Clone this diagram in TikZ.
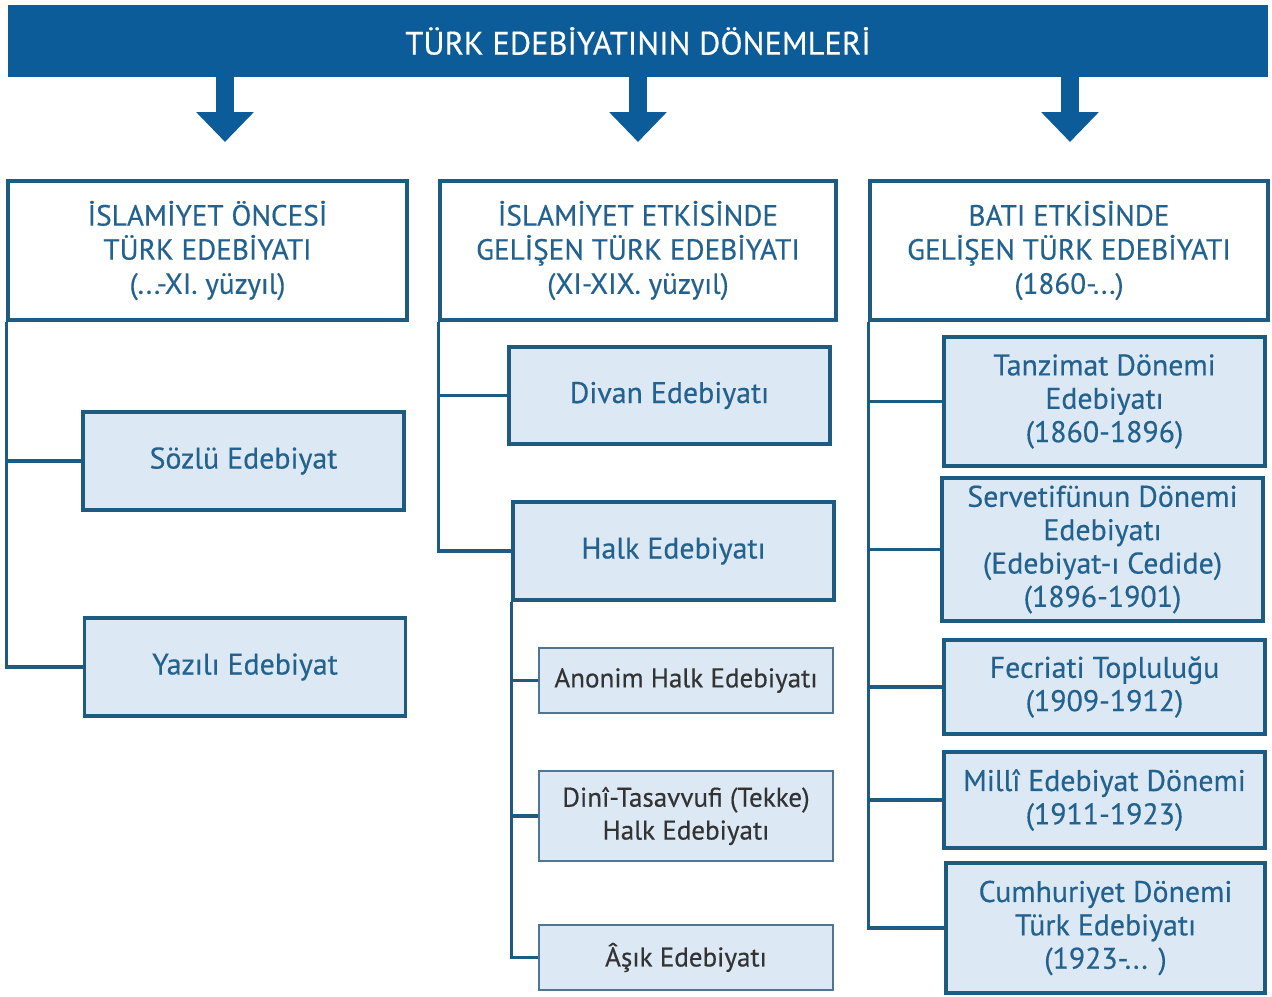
\documentclass[tikz,border=0pt]{standalone}
\usepackage{fontspec}
\setmainfont{PT Sans}[FakeBold=0.4]
\usepackage{tikz}
\usetikzlibrary{arrows.meta, positioning, calc}
\usepackage{xcolor}
\definecolor{hdrblue}{HTML}{0B5C99}
\definecolor{edgeblue}{HTML}{1D5B80}
\definecolor{boxfill}{HTML}{DCE8F4}
\definecolor{txtblue}{HTML}{23628F}
\definecolor{greyedge}{HTML}{4E7592}
\tikzstyle{title} = [rectangle, minimum width=25.2cm, minimum height=1.44cm, fill=hdrblue, text=white, font=\fontsize{18.5}{22}\selectfont]
\tikzstyle{period} = [rectangle, minimum height=2.78cm, draw=edgeblue, line width=2pt, fill=white, text=txtblue, align=center, font=\fontsize{16.6}{19.4}\selectfont]
\tikzstyle{branch} = [rectangle, minimum width=6.42cm, draw=edgeblue, line width=2pt, fill=boxfill, text=txtblue, align=center, font=\fontsize{17}{19}\selectfont]
\tikzstyle{leaf} = [rectangle, minimum width=5.88cm, draw=greyedge, line width=1.2pt, fill=boxfill, text=black!80, align=center, font=\fontsize{15.4}{18.7}\selectfont]
\tikzstyle{tree} = [edgeblue, line width=2pt]
\tikzstyle{blockarrow} = [hdrblue, line width=0.36cm, -{Triangle[width=1.12cm, length=0.6cm]}]

\begin{document}
\begin{tikzpicture}[x=0.02cm, y=-0.02cm]
        \useasboundingbox (0,0) rectangle (1272,997);
        \node (head) [title] at (638,41) {TÜRK EDEBİYATININ DÖNEMLERİ};

        \node (c1) [period, minimum width=7.98cm] at (207.5,250.5) {İSLAMİYET ÖNCESİ\\TÜRK EDEBİYATI\\(...-XI. yüzyıl)};
        \node (c2) [period, minimum width=7.92cm] at (638,250.5) {İSLAMİYET ETKİSİNDE\\GELİŞEN TÜRK EDEBİYATI\\(XI-XIX. yüzyıl)};
        \node (c3) [period, minimum width=7.96cm] at (1069,250.5) {BATI ETKİSİNDE\\GELİŞEN TÜRK EDEBİYATI\\(1860-...)};

        \coordinate (a1) at (225,142);
        \coordinate (a2) at (638,142);
        \coordinate (a3) at (1070,142);
        \draw [blockarrow] (head.south -| a1) -- (a1);
        \draw [blockarrow] (head.south -| a2) -- (a2);
        \draw [blockarrow] (head.south -| a3) -- (a3);

        % first column
        \node (sozlu) [branch, minimum height=1.96cm] at (243.5,461) {Sözlü Edebiyat};
        \node (yazili) [branch, minimum height=1.96cm] at (245,667) {Yazılı Edebiyat};

        % second column
        \node (divan) [branch, minimum height=1.94cm] at (669.5,395.5) {Divan Edebiyatı};
        \node (halk) [branch, minimum height=1.96cm] at (673.5,551) {Halk Edebiyatı};
        \node (anonim) [leaf, minimum height=1.3cm] at (686,680.5) {Anonim Halk Edebiyatı};
        \node (dini) [leaf, minimum height=1.8cm] at (686,816) {Dinî-Tasavvufi (Tekke)\\Halk Edebiyatı};
        \node (asik) [leaf, minimum height=1.3cm] at (686,957.5) {Âşık Edebiyatı};

        % third column
        \node (tanz) [branch, minimum height=2.58cm] at (1104.5,401.5) {Tanzimat Dönemi\\Edebiyatı\\(1860-1896)};
        \node (servet) [branch, minimum height=2.86cm] at (1102.5,549.5) {Servetifünun Dönemi\\Edebiyatı\\(Edebiyat-ı Cedide)\\(1896-1901)};
        \node (fecr) [branch, minimum height=1.88cm] at (1104.5,687) {Fecriati Topluluğu\\(1909-1912)};
        \node (milli) [branch, minimum height=1.92cm] at (1104.5,800) {Millî Edebiyat Dönemi\\(1911-1923)};
        \node (cumh) [branch, minimum height=2.6cm, minimum width=6.38cm] at (1105.5,928) {Cumhuriyet Dönemi\\Türk Edebiyatı\\(1923-... )};

        \draw [tree] (c1.south west) |- (yazili.west);
        \draw [tree] (c1.south west |- sozlu.west) -- (sozlu.west);

        \draw [tree] (c2.south west) |- (halk.west);
        \draw [tree] (c2.south west |- divan.west) -- (divan.west);
        \draw [tree] (halk.south west) |- (asik.west);
        \draw [tree] (halk.south west |- anonim.west) -- (anonim.west);
        \draw [tree] (halk.south west |- dini.west) -- (dini.west);

        \draw [tree] (c3.south west) |- (cumh.west);
        \draw [tree] (c3.south west |- tanz.west) -- (tanz.west);
        \draw [tree] (c3.south west |- servet.west) -- (servet.west);
        \draw [tree] (c3.south west |- fecr.west) -- (fecr.west);
        \draw [tree] (c3.south west |- milli.west) -- (milli.west);
    \end{tikzpicture}
\end{document}
